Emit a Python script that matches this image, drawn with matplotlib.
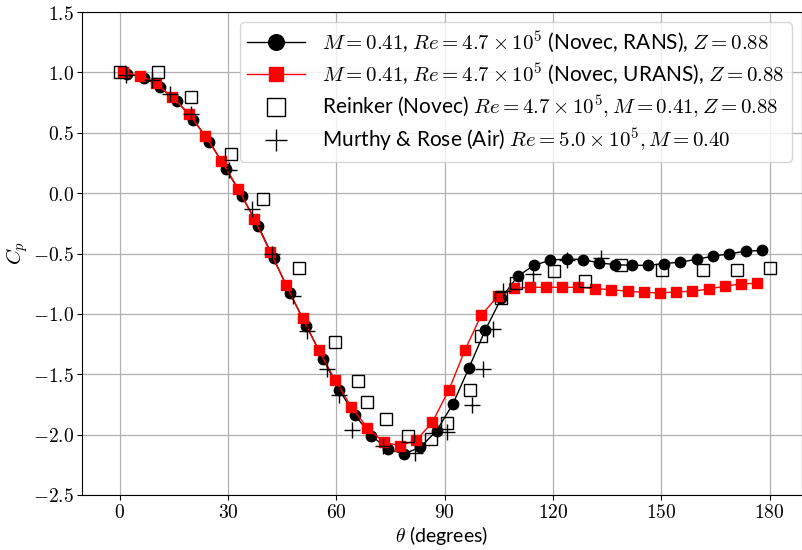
import matplotlib
matplotlib.use("Agg")
import matplotlib.pyplot as plt

plt.rcParams['mathtext.fontset'] = 'cm'
plt.rcParams['font.family'] = ['Lato', 'DejaVu Sans']

# RANS (Novec), black circles
theta_rans = [2.0, 6.8, 11.1, 15.7, 20.3, 24.8, 29.4, 33.8, 38.4, 42.6,
              47.1, 51.7, 56.3, 60.8, 65.2, 69.7, 74.3, 78.7, 83.2, 87.8,
              92.3, 96.7, 101.2, 105.7, 110.2, 114.8, 119.3, 123.9, 128.3, 132.8,
              137.3, 141.8, 146.4, 150.8, 155.3, 159.9, 164.4, 168.9, 173.4, 177.8]
cp_rans = [0.99, 0.956, 0.876, 0.765, 0.609, 0.427, 0.202, -0.025, -0.275, -0.541,
           -0.827, -1.100, -1.374, -1.631, -1.841, -2.010, -2.120, -2.159, -2.106, -1.967,
           -1.744, -1.449, -1.136, -0.87, -0.688, -0.597, -0.555, -0.545, -0.550, -0.578,
           -0.592, -0.598, -0.598, -0.583, -0.572, -0.547, -0.522, -0.502, -0.481, -0.475]

# URANS (Novec), red squares
theta_urans = [0.9, 5.6, 10.0, 14.5, 19.1, 23.6, 28.1, 32.8, 37.2, 41.6,
               46.0, 50.6, 55.1, 59.6, 64.1, 68.6, 73.1, 77.6, 82.1, 86.6,
               91.2, 95.6, 100.1, 104.7, 109.3, 113.6, 118.0, 122.6, 127.0, 131.7,
               136.2, 140.7, 145.1, 149.6, 154.1, 158.6, 163.1, 167.6, 172.1, 176.6]
cp_urans = [1.0, 0.973, 0.908, 0.795, 0.659, 0.474, 0.270, 0.036, -0.212, -0.485,
            -0.757, -1.034, -1.300, -1.548, -1.769, -1.946, -2.062, -2.092, -2.048, -1.896,
            -1.627, -1.300, -1.012, -0.854, -0.788, -0.780, -0.780, -0.780, -0.780, -0.791,
            -0.799, -0.813, -0.821, -0.827, -0.818, -0.813, -0.794, -0.771, -0.752, -0.746]

# Reinker experiment (Novec)
theta_reinker = [0.0, 10.5, 19.8, 30.8, 39.7, 49.7, 59.7, 66.0, 68.6, 73.7,
                 79.7, 86.3, 90.5, 96.9, 100.1, 105.6, 109.8, 120.4, 128.8, 138.8,
                 150.1, 161.7, 171.1, 180.0]
cp_reinker = [1.0, 1.0, 0.796, 0.326, -0.047, -0.619, -1.233, -1.559, -1.733, -1.871,
              -2.015, -2.034, -1.905, -1.628, -1.186, -0.865, -0.744, -0.645, -0.724, -0.592,
              -0.633, -0.633, -0.633, -0.619]

# Murthy & Rose (air)
theta_murthy = [1.7, 8.9, 14.0, 19.7, 30.3, 36.5, 42.2, 47.9, 51.9, 57.3,
                60.8, 64.2, 72.8, 81.8, 90.5, 97.7, 100.7, 103.5, 106.2, 114.5,
                124.0, 133.3]
cp_murthy = [0.98, 0.935, 0.82, 0.652, 0.188, -0.135, -0.503, -0.854, -1.144, -1.454,
             -1.675, -1.965, -2.098, -2.153, -1.979, -1.758, -1.454, -1.125, -0.81, -0.67,
             -0.55, -0.537]

xticks = [0, 30, 60, 90, 120, 150, 180]
yticks = [1.5, 1.0, 0.5, 0.0, -0.5, -1.0, -1.5, -2.0, -2.5]

fig = plt.figure(figsize=(8.03, 5.5), dpi=100)
ax = fig.add_axes([82/803, 55/550, 720/803, 483/550])

ax.plot(theta_rans, cp_rans, '-o', color='black', lw=1, ms=7.5,
        label=r'$M = 0.41$, $Re = 4.7\times10^5$ (Novec, RANS), $Z = 0.88$')
ax.plot(theta_urans, cp_urans, '-s', color='red', lw=1, ms=7,
        label=r'$M = 0.41$, $Re = 4.7\times10^5$ (Novec, URANS), $Z = 0.88$')
ax.plot(theta_reinker, cp_reinker, 's', mfc='none', mec='black', mew=1, ms=9,
        label=r'Reinker (Novec) $Re = 4.7\times10^5, M = 0.41, Z = 0.88$')
ax.plot(theta_murthy, cp_murthy, '+', color='black', mew=1, ms=11,
        label=r'Murthy & Rose (Air) $Re = 5.0\times10^5, M = 0.40$')

ax.set_xlim(-10.5, 189)
ax.set_ylim(-2.5, 1.5)
ax.set_xticks(xticks, labels=['$%d$' % t for t in xticks])
ax.set_yticks(yticks, labels=['$%.1f$' % t for t in yticks])
ax.tick_params(labelsize=14, pad=2.5)
ax.grid(True, color='#b0b0b0', lw=0.9)
ax.set_axisbelow(True)

ax.set_xlabel(r'$\theta$ (degrees)', fontsize=14, labelpad=2)
ax.set_ylabel(r'$C_p$', fontsize=15, labelpad=2)

ax.legend(loc='upper right', fontsize=15, markerscale=1.5, handlelength=2.8,
          framealpha=0.8, borderaxespad=0.5, labelspacing=0.3, borderpad=0.35)

fig.savefig('out.png', dpi=100)
